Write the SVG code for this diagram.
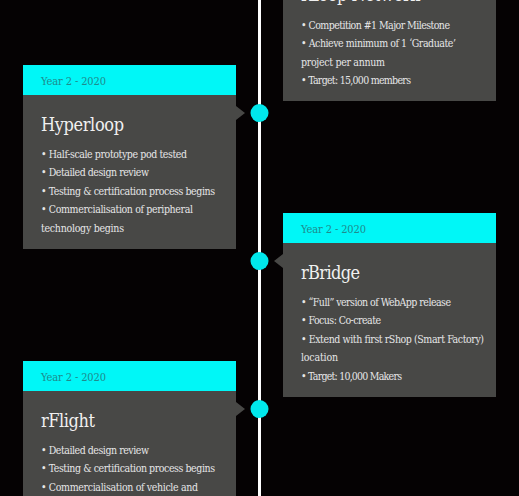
<svg xmlns="http://www.w3.org/2000/svg" width="519" height="496" viewBox="0 0 519 496">
<style>
.card{fill:#484846}
.hdr{fill:#00f7f7}
.yr{font-family:"DejaVu Serif","Liberation Serif",serif;font-stretch:condensed;font-size:11px;fill:#1f8a8c}
.ttl{font-family:"DejaVu Serif","Liberation Serif",serif;font-stretch:condensed;font-size:18px;fill:#f0f0f0}
.bl{font-family:"DejaVu Serif","Liberation Serif",serif;font-stretch:condensed;font-size:10.5px;fill:#e6e6e6}
.dot{fill:#00e8ec}
</style>
<rect width="519" height="496" fill="#050203"/>
<g id="connectors">
<rect x="258" y="0" width="3" height="496" fill="#ffffff"/>
</g>
<g id="rloop-network">
<rect class="card" x="283" y="-10" width="213" height="111"/>
<text class="ttl" x="301" y="1" textLength="119">rLoop Network</text>
<text class="bl" x="301" y="29" textLength="149">• Competition #1 Major Milestone</text>
<text class="bl" x="301" y="47" textLength="155">• Achieve minimum of 1 ‘Graduate’</text>
<text class="bl" x="301" y="66" textLength="84">project per annum</text>
<text class="bl" x="301" y="84" textLength="110">• Target: 15,000 members</text>
</g>
<g id="hyperloop">
<rect class="hdr" x="23" y="65" width="213" height="30"/>
<rect class="card" x="23" y="95" width="213" height="154"/>
<polygon class="card" points="236,106 245,113 236,120"/>
<circle class="dot" cx="259.5" cy="113" r="9"/>
<text class="yr" x="41" y="85" textLength="65">Year 2 - 2020</text>
<text class="ttl" x="41" y="131" textLength="83">Hyperloop</text>
<text class="bl" x="41" y="158" textLength="146">• Half-scale prototype pod tested</text>
<text class="bl" x="41" y="176" textLength="108">• Detailed design review</text>
<text class="bl" x="41" y="195" textLength="174">• Testing &amp; certification process begins</text>
<text class="bl" x="41" y="213" textLength="152">• Commercialisation of peripheral</text>
<text class="bl" x="41" y="232" textLength="83">technology begins</text>
</g>
<g id="rbridge">
<rect class="hdr" x="283" y="213" width="213" height="30"/>
<rect class="card" x="283" y="243" width="213" height="154"/>
<polygon class="card" points="283,254 274,261 283,268"/>
<circle class="dot" cx="259.5" cy="261" r="9"/>
<text class="yr" x="301" y="233" textLength="65">Year 2 - 2020</text>
<text class="ttl" x="301" y="279" textLength="59">rBridge</text>
<text class="bl" x="301" y="306" textLength="150">• “Full” version of WebApp release</text>
<text class="bl" x="301" y="324" textLength="80">• Focus: Co-create</text>
<text class="bl" x="301" y="343" textLength="183">• Extend with first rShop (Smart Factory)</text>
<text class="bl" x="301" y="361" textLength="37">location</text>
<text class="bl" x="301" y="380" textLength="101">• Target: 10,000 Makers</text>
</g>
<g id="rflight">
<rect class="hdr" x="23" y="361" width="213" height="30"/>
<rect class="card" x="23" y="391" width="213" height="115"/>
<polygon class="card" points="236,402 245,409 236,416"/>
<circle class="dot" cx="259.5" cy="409" r="9"/>
<text class="yr" x="41" y="381" textLength="65">Year 2 - 2020</text>
<text class="ttl" x="41" y="427" textLength="54">rFlight</text>
<text class="bl" x="41" y="454" textLength="108">• Detailed design review</text>
<text class="bl" x="41" y="472" textLength="174">• Testing &amp; certification process begins</text>
<text class="bl" x="41" y="491" textLength="157">• Commercialisation of vehicle and</text>
</g>
</svg>
